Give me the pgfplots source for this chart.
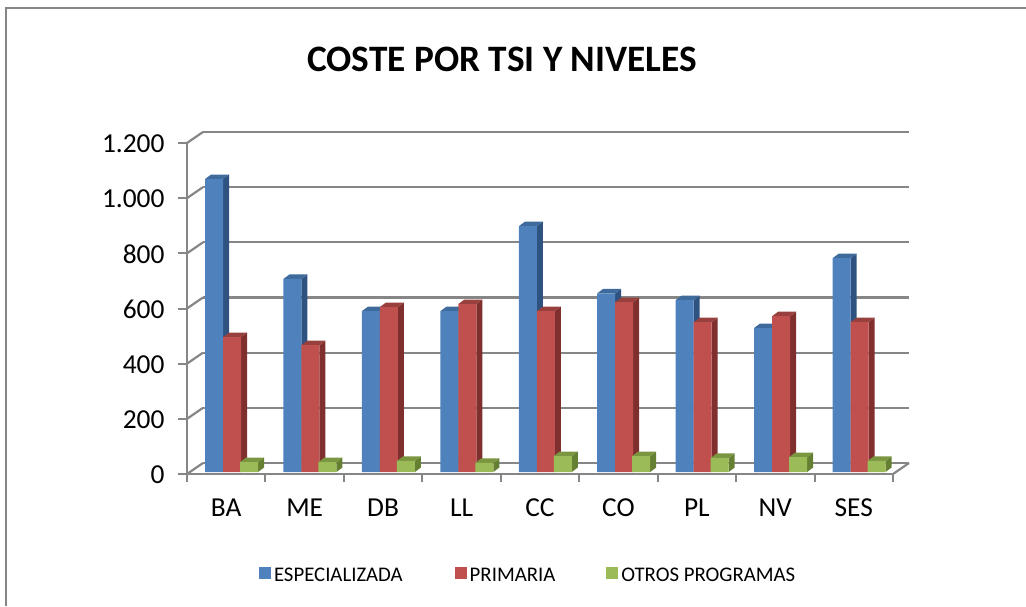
\documentclass[border=0pt]{standalone}
\usepackage{pgfplots}
\usepackage{pgfplotstable}
\usepackage{fontspec}
\setmainfont{Carlito}
\pgfplotsset{compat=1.18}
\definecolor{gridcol}{HTML}{868686}
\definecolor{bF}{HTML}{4F81BD}\definecolor{bS}{HTML}{2F5380}\definecolor{bT}{HTML}{3E6A9C}
\definecolor{rF}{HTML}{C0504D}\definecolor{rS}{HTML}{7F2F2D}\definecolor{rT}{HTML}{98403D}
\definecolor{gF}{HTML}{9BBB59}\definecolor{gS}{HTML}{668033}\definecolor{gT}{HTML}{7A9640}
\pgfplotstableread{
i esp pri otr
0 1062 489 36
1 700 460 36
2 583 598 40
3 583 609 33
4 891 583 58
5 648 616 58
6 623 543 51
7 522 565 54
8 775 543 40
}\datatable
% depth faces of a bar: the mark sits at the data point, \h is the bar's height
\newcommand\defbarmark[4]{%
  \pgfdeclareplotmark{#1}{%
    \pgfpathmoveto{\pgfpoint{#2pt+9pt}{2pt}}%
    \pgfpathlineto{\pgfpoint{#2pt+15pt}{6.5pt}}%
    \pgfpathlineto{\pgfpoint{#2pt+15pt}{6.5pt-\h pt}}%
    \pgfpathlineto{\pgfpoint{#2pt+9pt}{2pt-\h pt}}%
    \pgfpathclose
    \pgfsetfillcolor{#3}\pgfusepathqfill
    \pgfpathmoveto{\pgfpoint{#2pt-9pt}{2pt}}%
    \pgfpathlineto{\pgfpoint{#2pt-3pt}{6.5pt}}%
    \pgfpathlineto{\pgfpoint{#2pt+15pt}{6.5pt}}%
    \pgfpathlineto{\pgfpoint{#2pt+9pt}{2pt}}%
    \pgfpathclose
    \pgfsetfillcolor{#4}\pgfusepathqfill
  }%
}
\defbarmark{depthB}{-12.2}{bS}{bT}
\defbarmark{depthR}{5.8}{rS}{rT}
\defbarmark{depthG}{22.8}{gS}{gT}
\newcommand\legstrut{\rule[-6pt]{0pt}{20pt}}
\begin{document}
\begin{tikzpicture}[x=1pt,y=1pt]
\path[use as bounding box] (0,0) rectangle (1026,606);
\draw[gridcol,line width=2pt] (6,0) -- (6,598) -- (1026,598);
% back wall
\begin{axis}[at={(203pt,143pt)},anchor=south west,scale only axis,width=706pt,height=331pt,
  xmin=-0.5,xmax=8.5,ymin=0,ymax=1200,xtick=\empty,ytick={0,200,...,1200},yticklabels={},
  ymajorgrids,major grid style={gridcol,line width=2.2pt},
  axis line style={draw=none},tick style={draw=none}]
\end{axis}
% side wall and floor edges
\foreach \v in {0,1,...,6}
  \draw[gridcol,line width=2.2pt] (187,132+55.17*\v) -- (203,143+55.17*\v);
\draw[gridcol,line width=2.2pt] (893,132) -- (909,143);
\begin{axis}[at={(187pt,132pt)},anchor=south west,scale only axis,width=706pt,height=331pt,
  xmin=-0.5,xmax=8.5,ymin=0,ymax=1200,clip=false,clip mode=individual,
  axis x line=bottom,axis y line=left,
  axis line style={-,draw=gridcol,line width=2.2pt},
  tick align=outside,
  ytick={0,200,...,1200},
  xtick={0,...,8},xticklabels={BA,ME,DB,LL,CC,CO,PL,NV,SES},
  minor xtick={-0.5,0.5,...,8.5},
  major tick length=9pt,minor tick length=8pt,
  every tick/.append style={gridcol,line width=2pt},
  every major x tick/.append style={draw=none},
  /pgf/number format/assume math mode=true,
  /pgf/number format/1000 sep={.},
  tick label style={font=\fontsize{27.4}{29}\selectfont,text=black},
  x tick label style={yshift=-12pt},
  y tick label style={xshift=-10pt,yshift=-1pt},
  legend style={draw=none,fill=none,at={(72pt,-101pt)},anchor=west,
    font=\fontsize{20.8}{22}\selectfont,legend columns=3,
    /tikz/every even column/.append style={column sep=0pt},
    inner sep=0pt,outer sep=0pt},
  legend cell align=left,
  legend image code/.code={\fill[#1] (0pt,-6pt) rectangle (12pt,6pt);},
]
\addplot[only marks,scatter,mark=depthB,forget plot,
  visualization depends on={\thisrow{esp}*0.2758 \as \h}] table[x=i,y=esp]{\datatable};
\addplot[ybar,bar width=18pt,bar shift=-12.2pt,yshift=2pt,fill=bF,draw=none] table[x=i,y=esp]{\datatable};
\addplot[only marks,scatter,mark=depthR,forget plot,
  visualization depends on={\thisrow{pri}*0.2758 \as \h}] table[x=i,y=pri]{\datatable};
\addplot[ybar,bar width=18pt,bar shift=5.8pt,yshift=2pt,fill=rF,draw=none] table[x=i,y=pri]{\datatable};
\addplot[only marks,scatter,mark=depthG,forget plot,
  visualization depends on={\thisrow{otr}*0.2758 \as \h}] table[x=i,y=otr]{\datatable};
\addplot[ybar,bar width=18pt,bar shift=22.8pt,yshift=2pt,fill=gF,draw=none] table[x=i,y=otr]{\datatable};
\legend{\mbox{\legstrut\kern1pt ESPECIALIZADA\rule{50pt}{0pt}},\mbox{\legstrut\kern1pt PRIMARIA\rule{49pt}{0pt}},\mbox{\legstrut\kern1pt OTROS PROGRAMAS}}
\end{axis}
\node[font=\fontsize{37.3}{40}\selectfont\bfseries,text=black] at (502,547) {COSTE POR TSI Y NIVELES};
\end{tikzpicture}
\end{document}
